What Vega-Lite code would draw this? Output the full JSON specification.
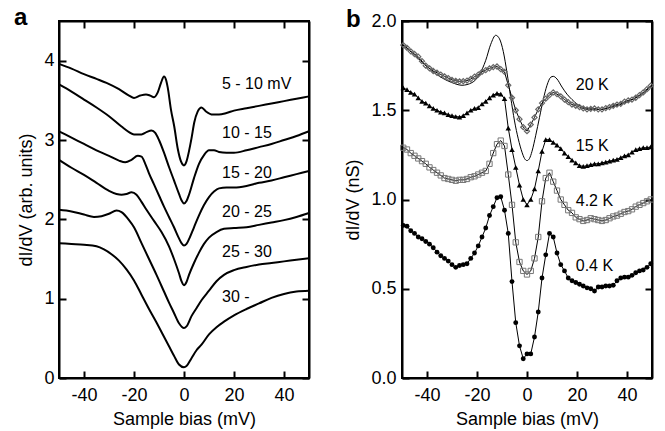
{
  "$schema": "https://vega.github.io/schema/vega-lite/v6.json",
  "padding": {"left": 13, "top": 5, "right": 5, "bottom": 5},
  "background": "white",
  "spacing": 29,
  "config": {
    "font": "Liberation Sans",
    "view": {"stroke": "black", "strokeWidth": 2},
    "axis": {
      "labelFont": "Liberation Sans", "labelFontSize": 18, "labelColor": "black",
      "titleFont": "Liberation Sans", "titleFontSize": 18, "titleFontWeight": "normal", "titleColor": "black",
      "tickColor": "black", "tickWidth": 2, "tickSize": -7, "ticks": true, "domain": true, "domainColor": "black", "domainWidth": 2, "grid": false,
      "labelFlush": false, "labelOverlap": false
    },
    "title": {"font": "Liberation Sans", "fontSize": 24, "fontWeight": "bold", "anchor": "start", "frame": "group", "color": "black"}
  },
  "datasets": {
    "a": [
      {"c":"1","x":-50,"y":3.96},{"c":"1","x":-45,"y":3.90},{"c":"1","x":-40,"y":3.83},{"c":"1","x":-35,"y":3.77},{"c":"1","x":-31,"y":3.72},{"c":"1","x":-26,"y":3.64},{"c":"1","x":-22,"y":3.56},{"c":"1","x":-20,"y":3.53},{"c":"1","x":-17.5,"y":3.56},{"c":"1","x":-15.2,"y":3.575},{"c":"1","x":-13.5,"y":3.56},{"c":"1","x":-12,"y":3.54},{"c":"1","x":-10.5,"y":3.60},{"c":"1","x":-9.2,"y":3.72},{"c":"1","x":-8,"y":3.80},{"c":"1","x":-7.2,"y":3.76},{"c":"1","x":-6.5,"y":3.66},{"c":"1","x":-5.2,"y":3.38},{"c":"1","x":-3.9,"y":3.17},{"c":"1","x":-2.5,"y":2.89},{"c":"1","x":-1.2,"y":2.73},{"c":"1","x":0,"y":2.68},{"c":"1","x":1,"y":2.73},{"c":"1","x":2,"y":2.86},{"c":"1","x":3,"y":3.02},{"c":"1","x":4.1,"y":3.22},{"c":"1","x":5.5,"y":3.36},{"c":"1","x":7,"y":3.41},{"c":"1","x":8.8,"y":3.36},{"c":"1","x":11.5,"y":3.32},{"c":"1","x":14,"y":3.32},{"c":"1","x":17,"y":3.34},{"c":"1","x":20,"y":3.37},{"c":"1","x":25,"y":3.40},{"c":"1","x":30,"y":3.43},{"c":"1","x":35,"y":3.46},{"c":"1","x":40,"y":3.49},{"c":"1","x":45,"y":3.52},{"c":"1","x":50,"y":3.55},
      {"c":"2","x":-50,"y":3.70},{"c":"2","x":-45,"y":3.61},{"c":"2","x":-40,"y":3.51},{"c":"2","x":-35,"y":3.41},{"c":"2","x":-30,"y":3.30},{"c":"2","x":-25,"y":3.17},{"c":"2","x":-22,"y":3.10},{"c":"2","x":-20,"y":3.07},{"c":"2","x":-17,"y":3.07},{"c":"2","x":-15,"y":3.10},{"c":"2","x":-13,"y":3.12},{"c":"2","x":-11.5,"y":3.09},{"c":"2","x":-10,"y":3.00},{"c":"2","x":-8,"y":2.84},{"c":"2","x":-6,"y":2.66},{"c":"2","x":-4,"y":2.49},{"c":"2","x":-2,"y":2.32},{"c":"2","x":-1,"y":2.24},{"c":"2","x":0,"y":2.20},{"c":"2","x":1,"y":2.23},{"c":"2","x":2,"y":2.31},{"c":"2","x":4,"y":2.52},{"c":"2","x":6,"y":2.70},{"c":"2","x":8,"y":2.81},{"c":"2","x":10,"y":2.87},{"c":"2","x":12,"y":2.87},{"c":"2","x":14,"y":2.85},{"c":"2","x":17,"y":2.84},{"c":"2","x":20,"y":2.84},{"c":"2","x":25,"y":2.87},{"c":"2","x":30,"y":2.91},{"c":"2","x":35,"y":2.95},{"c":"2","x":40,"y":3.00},{"c":"2","x":45,"y":3.05},{"c":"2","x":50,"y":3.11},
      {"c":"3","x":-50,"y":3.11},{"c":"3","x":-45,"y":3.03},{"c":"3","x":-40,"y":2.95},{"c":"3","x":-35,"y":2.87},{"c":"3","x":-30,"y":2.80},{"c":"3","x":-26,"y":2.74},{"c":"3","x":-23.5,"y":2.72},{"c":"3","x":-21,"y":2.75},{"c":"3","x":-18.5,"y":2.80},{"c":"3","x":-17,"y":2.79},{"c":"3","x":-15.5,"y":2.70},{"c":"3","x":-14,"y":2.58},{"c":"3","x":-12,"y":2.44},{"c":"3","x":-10,"y":2.30},{"c":"3","x":-8,"y":2.16},{"c":"3","x":-6,"y":2.03},{"c":"3","x":-4,"y":1.90},{"c":"3","x":-2,"y":1.76},{"c":"3","x":-1,"y":1.70},{"c":"3","x":0,"y":1.67},{"c":"3","x":1,"y":1.69},{"c":"3","x":2,"y":1.75},{"c":"3","x":4,"y":1.90},{"c":"3","x":6,"y":2.05},{"c":"3","x":8,"y":2.18},{"c":"3","x":10,"y":2.28},{"c":"3","x":12,"y":2.35},{"c":"3","x":14,"y":2.39},{"c":"3","x":17,"y":2.40},{"c":"3","x":20,"y":2.40},{"c":"3","x":25,"y":2.42},{"c":"3","x":30,"y":2.46},{"c":"3","x":35,"y":2.49},{"c":"3","x":40,"y":2.53},{"c":"3","x":45,"y":2.57},{"c":"3","x":50,"y":2.61},
      {"c":"4","x":-50,"y":2.75},{"c":"4","x":-45,"y":2.65},{"c":"4","x":-40,"y":2.56},{"c":"4","x":-35,"y":2.46},{"c":"4","x":-30,"y":2.36},{"c":"4","x":-27,"y":2.32},{"c":"4","x":-25,"y":2.31},{"c":"4","x":-23,"y":2.32},{"c":"4","x":-21,"y":2.34},{"c":"4","x":-19,"y":2.31},{"c":"4","x":-17,"y":2.22},{"c":"4","x":-15,"y":2.12},{"c":"4","x":-12,"y":1.98},{"c":"4","x":-9,"y":1.84},{"c":"4","x":-6,"y":1.66},{"c":"4","x":-4,"y":1.50},{"c":"4","x":-2,"y":1.32},{"c":"4","x":-1,"y":1.22},{"c":"4","x":0,"y":1.17},{"c":"4","x":1,"y":1.21},{"c":"4","x":2,"y":1.30},{"c":"4","x":4,"y":1.45},{"c":"4","x":6,"y":1.58},{"c":"4","x":8,"y":1.69},{"c":"4","x":10,"y":1.77},{"c":"4","x":13,"y":1.84},{"c":"4","x":16,"y":1.88},{"c":"4","x":20,"y":1.89},{"c":"4","x":25,"y":1.90},{"c":"4","x":30,"y":1.93},{"c":"4","x":35,"y":1.96},{"c":"4","x":40,"y":1.99},{"c":"4","x":45,"y":2.03},{"c":"4","x":50,"y":2.08},
      {"c":"5","x":-50,"y":2.12},{"c":"5","x":-45,"y":2.10},{"c":"5","x":-40,"y":2.06},{"c":"5","x":-36,"y":2.03},{"c":"5","x":-33,"y":2.04},{"c":"5","x":-30,"y":2.07},{"c":"5","x":-27,"y":2.11},{"c":"5","x":-25,"y":2.09},{"c":"5","x":-22,"y":1.99},{"c":"5","x":-20,"y":1.90},{"c":"5","x":-17,"y":1.70},{"c":"5","x":-14,"y":1.50},{"c":"5","x":-11,"y":1.30},{"c":"5","x":-8,"y":1.09},{"c":"5","x":-6,"y":0.95},{"c":"5","x":-4,"y":0.82},{"c":"5","x":-2,"y":0.69},{"c":"5","x":0,"y":0.63},{"c":"5","x":1,"y":0.65},{"c":"5","x":3,"y":0.78},{"c":"5","x":5,"y":0.88},{"c":"5","x":7,"y":0.98},{"c":"5","x":10,"y":1.10},{"c":"5","x":13,"y":1.22},{"c":"5","x":16,"y":1.30},{"c":"5","x":20,"y":1.36},{"c":"5","x":25,"y":1.40},{"c":"5","x":30,"y":1.43},{"c":"5","x":35,"y":1.45},{"c":"5","x":40,"y":1.47},{"c":"5","x":45,"y":1.49},{"c":"5","x":50,"y":1.51},
      {"c":"6","x":-50,"y":1.70},{"c":"6","x":-45,"y":1.69},{"c":"6","x":-40,"y":1.68},{"c":"6","x":-35,"y":1.66},{"c":"6","x":-32,"y":1.62},{"c":"6","x":-29,"y":1.56},{"c":"6","x":-26,"y":1.48},{"c":"6","x":-23,"y":1.37},{"c":"6","x":-20,"y":1.23},{"c":"6","x":-17,"y":1.05},{"c":"6","x":-14,"y":0.87},{"c":"6","x":-11,"y":0.70},{"c":"6","x":-8,"y":0.52},{"c":"6","x":-6,"y":0.40},{"c":"6","x":-4,"y":0.28},{"c":"6","x":-2,"y":0.17},{"c":"6","x":0,"y":0.135},{"c":"6","x":1,"y":0.15},{"c":"6","x":3,"y":0.25},{"c":"6","x":5,"y":0.35},{"c":"6","x":7,"y":0.42},{"c":"6","x":10,"y":0.55},{"c":"6","x":13,"y":0.64},{"c":"6","x":16,"y":0.71},{"c":"6","x":20,"y":0.79},{"c":"6","x":25,"y":0.87},{"c":"6","x":30,"y":0.94},{"c":"6","x":35,"y":1.01},{"c":"6","x":40,"y":1.06},{"c":"6","x":45,"y":1.09},{"c":"6","x":50,"y":1.10}
    ],
    "alab": [
      {"t":"5 - 10 mV","x":15.2,"y":3.70},{"t":"10 - 15","x":15.2,"y":3.09},{"t":"15 - 20","x":15.2,"y":2.58},{"t":"20 - 25","x":15.2,"y":2.09},{"t":"25 - 30","x":15.2,"y":1.59},{"t":"30 -","x":15.2,"y":1.02}
    ],
    "blab": [
      {"t":"20 K","x":19.5,"y":1.64},{"t":"15 K","x":19.5,"y":1.30},{"t":"4.2 K","x":19.5,"y":0.99},{"t":"0.4 K","x":19.5,"y":0.63}
    ],
    "fit": [
      {"x":-50,"y":1.87},{"x":-45,"y":1.81},{"x":-40,"y":1.745},{"x":-35,"y":1.69},{"x":-30,"y":1.655},{"x":-26,"y":1.64},{"x":-22,"y":1.655},{"x":-19,"y":1.70},{"x":-16.5,"y":1.78},{"x":-14.5,"y":1.87},{"x":-12.5,"y":1.92},{"x":-11,"y":1.90},{"x":-9.5,"y":1.83},{"x":-8,"y":1.71},{"x":-6.5,"y":1.57},{"x":-5,"y":1.44},{"x":-3.5,"y":1.34},{"x":-2,"y":1.265},{"x":-1,"y":1.23},{"x":0,"y":1.218},{"x":1,"y":1.23},{"x":2,"y":1.27},{"x":3.5,"y":1.36},{"x":5,"y":1.46},{"x":6.5,"y":1.56},{"x":8,"y":1.64},{"x":9.5,"y":1.685},{"x":10.5,"y":1.69},{"x":12,"y":1.675},{"x":14,"y":1.63},{"x":16,"y":1.59},{"x":18,"y":1.56},{"x":20,"y":1.535},{"x":23,"y":1.515},{"x":26,"y":1.505},{"x":30,"y":1.505},{"x":34,"y":1.52},{"x":38,"y":1.535},{"x":42,"y":1.56},{"x":46,"y":1.59},{"x":50,"y":1.64}
    ],
    "b": [
      {"s":"20 K","x":-49.5,"y":1.865},{"s":"20 K","x":-48,"y":1.85},{"s":"20 K","x":-46.5,"y":1.83},{"s":"20 K","x":-45,"y":1.815},{"s":"20 K","x":-43.5,"y":1.80},{"s":"20 K","x":-42,"y":1.775},{"s":"20 K","x":-40.5,"y":1.75},{"s":"20 K","x":-39,"y":1.735},{"s":"20 K","x":-37.5,"y":1.72},{"s":"20 K","x":-36,"y":1.71},{"s":"20 K","x":-34.5,"y":1.70},{"s":"20 K","x":-33,"y":1.69},{"s":"20 K","x":-31.5,"y":1.68},{"s":"20 K","x":-30,"y":1.67},{"s":"20 K","x":-28.5,"y":1.665},{"s":"20 K","x":-27,"y":1.662},{"s":"20 K","x":-25.5,"y":1.663},{"s":"20 K","x":-24,"y":1.666},{"s":"20 K","x":-22.5,"y":1.675},{"s":"20 K","x":-21,"y":1.688},{"s":"20 K","x":-19.5,"y":1.70},{"s":"20 K","x":-18,"y":1.715},{"s":"20 K","x":-16.5,"y":1.725},{"s":"20 K","x":-15,"y":1.735},{"s":"20 K","x":-13.5,"y":1.742},{"s":"20 K","x":-12,"y":1.745},{"s":"20 K","x":-10.5,"y":1.73},{"s":"20 K","x":-9,"y":1.715},{"s":"20 K","x":-7.5,"y":1.64},{"s":"20 K","x":-6,"y":1.57},{"s":"20 K","x":-4.5,"y":1.50},{"s":"20 K","x":-3,"y":1.45},{"s":"20 K","x":-1.5,"y":1.405},{"s":"20 K","x":0,"y":1.383},{"s":"20 K","x":1.5,"y":1.42},{"s":"20 K","x":3,"y":1.46},{"s":"20 K","x":4.5,"y":1.505},{"s":"20 K","x":6,"y":1.54},{"s":"20 K","x":7.5,"y":1.565},{"s":"20 K","x":9,"y":1.585},{"s":"20 K","x":10.5,"y":1.60},{"s":"20 K","x":12,"y":1.59},{"s":"20 K","x":13.5,"y":1.578},{"s":"20 K","x":15,"y":1.56},{"s":"20 K","x":16.5,"y":1.545},{"s":"20 K","x":18,"y":1.532},{"s":"20 K","x":19.5,"y":1.525},{"s":"20 K","x":21,"y":1.518},{"s":"20 K","x":22.5,"y":1.51},{"s":"20 K","x":24,"y":1.505},{"s":"20 K","x":25.5,"y":1.508},{"s":"20 K","x":27,"y":1.51},{"s":"20 K","x":28.5,"y":1.505},{"s":"20 K","x":30,"y":1.505},{"s":"20 K","x":31.5,"y":1.512},{"s":"20 K","x":33,"y":1.518},{"s":"20 K","x":34.5,"y":1.525},{"s":"20 K","x":36,"y":1.532},{"s":"20 K","x":37.5,"y":1.536},{"s":"20 K","x":39,"y":1.548},{"s":"20 K","x":40.5,"y":1.555},{"s":"20 K","x":42,"y":1.56},{"s":"20 K","x":43.5,"y":1.57},{"s":"20 K","x":45,"y":1.585},{"s":"20 K","x":46.5,"y":1.60},{"s":"20 K","x":48,"y":1.618},{"s":"20 K","x":49.5,"y":1.638},
      {"s":"15 K","x":-49.5,"y":1.625},{"s":"15 K","x":-48,"y":1.615},{"s":"15 K","x":-46.5,"y":1.60},{"s":"15 K","x":-45,"y":1.59},{"s":"15 K","x":-43.5,"y":1.57},{"s":"15 K","x":-42,"y":1.55},{"s":"15 K","x":-40.5,"y":1.54},{"s":"15 K","x":-39,"y":1.525},{"s":"15 K","x":-37.5,"y":1.51},{"s":"15 K","x":-36,"y":1.50},{"s":"15 K","x":-34.5,"y":1.49},{"s":"15 K","x":-33,"y":1.485},{"s":"15 K","x":-31.5,"y":1.475},{"s":"15 K","x":-30,"y":1.47},{"s":"15 K","x":-28.5,"y":1.465},{"s":"15 K","x":-27,"y":1.462},{"s":"15 K","x":-25.5,"y":1.47},{"s":"15 K","x":-24,"y":1.485},{"s":"15 K","x":-22.5,"y":1.50},{"s":"15 K","x":-21,"y":1.51},{"s":"15 K","x":-19.5,"y":1.515},{"s":"15 K","x":-18,"y":1.535},{"s":"15 K","x":-16.5,"y":1.55},{"s":"15 K","x":-15,"y":1.57},{"s":"15 K","x":-13.5,"y":1.585},{"s":"15 K","x":-12,"y":1.595},{"s":"15 K","x":-10.5,"y":1.59},{"s":"15 K","x":-9,"y":1.565},{"s":"15 K","x":-7.5,"y":1.40},{"s":"15 K","x":-6,"y":1.28},{"s":"15 K","x":-4.5,"y":1.18},{"s":"15 K","x":-3,"y":1.08},{"s":"15 K","x":-1.5,"y":1.00},{"s":"15 K","x":0,"y":0.97},{"s":"15 K","x":1.5,"y":1.00},{"s":"15 K","x":3,"y":1.06},{"s":"15 K","x":4.5,"y":1.16},{"s":"15 K","x":6,"y":1.27},{"s":"15 K","x":7.5,"y":1.335},{"s":"15 K","x":9,"y":1.335},{"s":"15 K","x":10.5,"y":1.32},{"s":"15 K","x":12,"y":1.305},{"s":"15 K","x":13.5,"y":1.285},{"s":"15 K","x":15,"y":1.26},{"s":"15 K","x":16.5,"y":1.24},{"s":"15 K","x":18,"y":1.22},{"s":"15 K","x":19.5,"y":1.205},{"s":"15 K","x":21,"y":1.19},{"s":"15 K","x":22.5,"y":1.185},{"s":"15 K","x":24,"y":1.19},{"s":"15 K","x":25.5,"y":1.195},{"s":"15 K","x":27,"y":1.20},{"s":"15 K","x":28.5,"y":1.20},{"s":"15 K","x":30,"y":1.205},{"s":"15 K","x":31.5,"y":1.21},{"s":"15 K","x":33,"y":1.215},{"s":"15 K","x":34.5,"y":1.22},{"s":"15 K","x":36,"y":1.225},{"s":"15 K","x":37.5,"y":1.235},{"s":"15 K","x":39,"y":1.245},{"s":"15 K","x":40.5,"y":1.25},{"s":"15 K","x":42,"y":1.265},{"s":"15 K","x":43.5,"y":1.28},{"s":"15 K","x":45,"y":1.285},{"s":"15 K","x":46.5,"y":1.29},{"s":"15 K","x":48,"y":1.29},{"s":"15 K","x":49.5,"y":1.295},
      {"s":"4.2 K","x":-49.5,"y":1.29},{"s":"4.2 K","x":-48,"y":1.28},{"s":"4.2 K","x":-46.5,"y":1.26},{"s":"4.2 K","x":-45,"y":1.245},{"s":"4.2 K","x":-43.5,"y":1.23},{"s":"4.2 K","x":-42,"y":1.215},{"s":"4.2 K","x":-40.5,"y":1.20},{"s":"4.2 K","x":-39,"y":1.18},{"s":"4.2 K","x":-37.5,"y":1.165},{"s":"4.2 K","x":-36,"y":1.15},{"s":"4.2 K","x":-34.5,"y":1.135},{"s":"4.2 K","x":-33,"y":1.12},{"s":"4.2 K","x":-31.5,"y":1.115},{"s":"4.2 K","x":-30,"y":1.11},{"s":"4.2 K","x":-28.5,"y":1.105},{"s":"4.2 K","x":-27,"y":1.11},{"s":"4.2 K","x":-25.5,"y":1.11},{"s":"4.2 K","x":-24,"y":1.115},{"s":"4.2 K","x":-22.5,"y":1.125},{"s":"4.2 K","x":-21,"y":1.13},{"s":"4.2 K","x":-19.5,"y":1.14},{"s":"4.2 K","x":-18,"y":1.15},{"s":"4.2 K","x":-16.5,"y":1.16},{"s":"4.2 K","x":-15,"y":1.20},{"s":"4.2 K","x":-13.5,"y":1.26},{"s":"4.2 K","x":-12,"y":1.31},{"s":"4.2 K","x":-10.5,"y":1.33},{"s":"4.2 K","x":-9,"y":1.30},{"s":"4.2 K","x":-7.5,"y":1.14},{"s":"4.2 K","x":-6,"y":0.97},{"s":"4.2 K","x":-4.5,"y":0.76},{"s":"4.2 K","x":-3,"y":0.65},{"s":"4.2 K","x":-1.5,"y":0.60},{"s":"4.2 K","x":0,"y":0.58},{"s":"4.2 K","x":1.5,"y":0.60},{"s":"4.2 K","x":3,"y":0.67},{"s":"4.2 K","x":4.5,"y":0.79},{"s":"4.2 K","x":6,"y":0.99},{"s":"4.2 K","x":7.5,"y":1.12},{"s":"4.2 K","x":9,"y":1.15},{"s":"4.2 K","x":10.5,"y":1.10},{"s":"4.2 K","x":12,"y":1.05},{"s":"4.2 K","x":13.5,"y":1.00},{"s":"4.2 K","x":15,"y":0.97},{"s":"4.2 K","x":16.5,"y":0.94},{"s":"4.2 K","x":18,"y":0.925},{"s":"4.2 K","x":19.5,"y":0.90},{"s":"4.2 K","x":21,"y":0.89},{"s":"4.2 K","x":22.5,"y":0.88},{"s":"4.2 K","x":24,"y":0.885},{"s":"4.2 K","x":25.5,"y":0.895},{"s":"4.2 K","x":27,"y":0.89},{"s":"4.2 K","x":28.5,"y":0.885},{"s":"4.2 K","x":30,"y":0.88},{"s":"4.2 K","x":31.5,"y":0.885},{"s":"4.2 K","x":33,"y":0.895},{"s":"4.2 K","x":34.5,"y":0.905},{"s":"4.2 K","x":36,"y":0.91},{"s":"4.2 K","x":37.5,"y":0.92},{"s":"4.2 K","x":39,"y":0.93},{"s":"4.2 K","x":40.5,"y":0.935},{"s":"4.2 K","x":42,"y":0.945},{"s":"4.2 K","x":43.5,"y":0.96},{"s":"4.2 K","x":45,"y":0.97},{"s":"4.2 K","x":46.5,"y":0.98},{"s":"4.2 K","x":48,"y":0.99},{"s":"4.2 K","x":49.5,"y":1.0},
      {"s":"0.4 K","x":-49.5,"y":0.855},{"s":"0.4 K","x":-48,"y":0.85},{"s":"0.4 K","x":-46.5,"y":0.825},{"s":"0.4 K","x":-45,"y":0.81},{"s":"0.4 K","x":-43.5,"y":0.79},{"s":"0.4 K","x":-42,"y":0.78},{"s":"0.4 K","x":-40.5,"y":0.765},{"s":"0.4 K","x":-39,"y":0.75},{"s":"0.4 K","x":-37.5,"y":0.73},{"s":"0.4 K","x":-36,"y":0.705},{"s":"0.4 K","x":-34.5,"y":0.685},{"s":"0.4 K","x":-33,"y":0.67},{"s":"0.4 K","x":-31.5,"y":0.655},{"s":"0.4 K","x":-30,"y":0.635},{"s":"0.4 K","x":-28.5,"y":0.62},{"s":"0.4 K","x":-27,"y":0.63},{"s":"0.4 K","x":-25.5,"y":0.635},{"s":"0.4 K","x":-24,"y":0.64},{"s":"0.4 K","x":-22.5,"y":0.67},{"s":"0.4 K","x":-21,"y":0.70},{"s":"0.4 K","x":-19.5,"y":0.74},{"s":"0.4 K","x":-18,"y":0.79},{"s":"0.4 K","x":-16.5,"y":0.84},{"s":"0.4 K","x":-15,"y":0.91},{"s":"0.4 K","x":-13.5,"y":0.96},{"s":"0.4 K","x":-12,"y":1.01},{"s":"0.4 K","x":-10.5,"y":1.015},{"s":"0.4 K","x":-9,"y":0.94},{"s":"0.4 K","x":-7.5,"y":0.81},{"s":"0.4 K","x":-6,"y":0.54},{"s":"0.4 K","x":-4.5,"y":0.31},{"s":"0.4 K","x":-3,"y":0.18},{"s":"0.4 K","x":-1.5,"y":0.108},{"s":"0.4 K","x":0,"y":0.135},{"s":"0.4 K","x":1.5,"y":0.135},{"s":"0.4 K","x":3,"y":0.23},{"s":"0.4 K","x":4.5,"y":0.37},{"s":"0.4 K","x":6,"y":0.56},{"s":"0.4 K","x":7.5,"y":0.69},{"s":"0.4 K","x":9,"y":0.81},{"s":"0.4 K","x":10.5,"y":0.79},{"s":"0.4 K","x":12,"y":0.70},{"s":"0.4 K","x":13.5,"y":0.635},{"s":"0.4 K","x":15,"y":0.60},{"s":"0.4 K","x":16.5,"y":0.56},{"s":"0.4 K","x":18,"y":0.545},{"s":"0.4 K","x":19.5,"y":0.535},{"s":"0.4 K","x":21,"y":0.525},{"s":"0.4 K","x":22.5,"y":0.515},{"s":"0.4 K","x":24,"y":0.505},{"s":"0.4 K","x":25.5,"y":0.50},{"s":"0.4 K","x":27,"y":0.487},{"s":"0.4 K","x":28.5,"y":0.51},{"s":"0.4 K","x":30,"y":0.51},{"s":"0.4 K","x":31.5,"y":0.515},{"s":"0.4 K","x":33,"y":0.515},{"s":"0.4 K","x":34.5,"y":0.52},{"s":"0.4 K","x":36,"y":0.545},{"s":"0.4 K","x":37.5,"y":0.56},{"s":"0.4 K","x":39,"y":0.565},{"s":"0.4 K","x":40.5,"y":0.565},{"s":"0.4 K","x":42,"y":0.575},{"s":"0.4 K","x":43.5,"y":0.59},{"s":"0.4 K","x":45,"y":0.60},{"s":"0.4 K","x":46.5,"y":0.605},{"s":"0.4 K","x":48,"y":0.62},{"s":"0.4 K","x":49.5,"y":0.64}
    ]
  },
  "hconcat": [
    {
      "width": 250, "height": 357,
      "title": {"text": "a", "dx": -45, "dy": 14},
      "layer": [
        {"mark": {"type": "rule", "strokeDash": [3, 3], "strokeWidth": 1, "color": "black"},
         "encoding": {"x": {"datum": 0, "type": "quantitative", "scale": {"domain": [-50, 50], "nice": false}, "axis": null}}},
        {"data": {"name": "a"},
         "mark": {"type": "line", "interpolate": "monotone", "color": "black", "strokeWidth": 2},
         "encoding": {
           "x": {"field": "x", "type": "quantitative", "scale": {"domain": [-50, 50], "nice": false},
                 "axis": {"orient": "bottom", "title": "Sample bias (mV)", "values": [-40, -20, 0, 20, 40], "labelExpr": "'' + datum.value", "labelPadding": 15, "titlePadding": 6}},
           "y": {"field": "y", "type": "quantitative", "scale": {"domain": [0, 4.5], "nice": false},
                 "axis": {"orient": "left", "title": "dI/dV (arb. units)", "values": [0, 1, 2, 3, 4], "labelPadding": 12, "titlePadding": 8}},
           "detail": {"field": "c"}
         }},
        {"data": {"name": "alab"},
         "mark": {"type": "text", "align": "left", "baseline": "middle", "fontSize": 16, "font": "Liberation Sans", "color": "black"},
         "encoding": {
           "x": {"field": "x", "type": "quantitative", "scale": {"domain": [-50, 50], "nice": false},
                 "axis": {"orient": "top", "labels": false, "title": null, "values": [-40, -20, 0, 20, 40]}},
           "y": {"field": "y", "type": "quantitative", "scale": {"domain": [0, 4.5], "nice": false},
                 "axis": {"orient": "right", "labels": false, "title": null, "values": [0, 1, 2, 3, 4]}},
           "text": {"field": "t"}
         }}
      ],
      "resolve": {"axis": {"x": "independent", "y": "independent"}}
    },
    {
      "width": 250, "height": 357,
      "title": {"text": "b", "dx": -56, "dy": 24},
      "layer": [
        {"mark": {"type": "rule", "strokeDash": [3, 3], "strokeWidth": 1, "color": "black"},
         "encoding": {"x": {"datum": 0, "type": "quantitative", "scale": {"domain": [-50, 50], "nice": false}, "axis": null}}},
        {"data": {"name": "fit"},
         "mark": {"type": "line", "interpolate": "monotone", "color": "black", "strokeWidth": 1},
         "encoding": {
           "x": {"field": "x", "type": "quantitative", "scale": {"domain": [-50, 50], "nice": false}, "axis": null},
           "y": {"field": "y", "type": "quantitative", "scale": {"domain": [0, 2], "nice": false}, "axis": null}
         }},
        {"data": {"name": "b"},
         "mark": {"type": "line", "color": "black", "strokeWidth": 1},
         "encoding": {
           "x": {"field": "x", "type": "quantitative", "scale": {"domain": [-50, 50], "nice": false},
                 "axis": {"orient": "bottom", "title": "Sample bias (mV)", "values": [-40, -20, 0, 20, 40], "labelExpr": "'' + datum.value", "labelPadding": 15, "titlePadding": 6}},
           "y": {"field": "y", "type": "quantitative", "scale": {"domain": [0, 2], "nice": false},
                 "axis": {"orient": "left", "title": "dI/dV (nS)", "values": [0, 0.5, 1, 1.5, 2], "format": ".1f", "labelPadding": 13, "titlePadding": 8}},
           "detail": {"field": "s"}
         }},
        {"data": {"name": "b"}, "transform": [{"filter": "datum.s == '20 K'"}],
         "mark": {"type": "point", "shape": "diamond", "filled": false, "stroke": "#666666", "strokeWidth": 1.2, "size": 26, "opacity": 1},
         "encoding": {
           "x": {"field": "x", "type": "quantitative", "scale": {"domain": [-50, 50], "nice": false}, "axis": null},
           "y": {"field": "y", "type": "quantitative", "scale": {"domain": [0, 2], "nice": false}, "axis": null}
         }},
        {"data": {"name": "b"}, "transform": [{"filter": "datum.s == '15 K'"}],
         "mark": {"type": "point", "shape": "triangle-up", "filled": true, "color": "black", "size": 30, "opacity": 1},
         "encoding": {
           "x": {"field": "x", "type": "quantitative", "scale": {"domain": [-50, 50], "nice": false}, "axis": null},
           "y": {"field": "y", "type": "quantitative", "scale": {"domain": [0, 2], "nice": false}, "axis": null}
         }},
        {"data": {"name": "b"}, "transform": [{"filter": "datum.s == '4.2 K'"}],
         "mark": {"type": "point", "shape": "square", "filled": false, "stroke": "#777777", "strokeWidth": 1, "size": 28, "opacity": 1},
         "encoding": {
           "x": {"field": "x", "type": "quantitative", "scale": {"domain": [-50, 50], "nice": false}, "axis": null},
           "y": {"field": "y", "type": "quantitative", "scale": {"domain": [0, 2], "nice": false}, "axis": null}
         }},
        {"data": {"name": "b"}, "transform": [{"filter": "datum.s == '0.4 K'"}],
         "mark": {"type": "point", "shape": "circle", "filled": true, "color": "black", "size": 24, "opacity": 1},
         "encoding": {
           "x": {"field": "x", "type": "quantitative", "scale": {"domain": [-50, 50], "nice": false}, "axis": null},
           "y": {"field": "y", "type": "quantitative", "scale": {"domain": [0, 2], "nice": false}, "axis": null}
         }},
        {"data": {"name": "blab"},
         "mark": {"type": "text", "align": "left", "baseline": "middle", "fontSize": 16, "font": "Liberation Sans", "color": "black"},
         "encoding": {
           "x": {"field": "x", "type": "quantitative", "scale": {"domain": [-50, 50], "nice": false},
                 "axis": {"orient": "top", "labels": false, "title": null, "values": [-40, -20, 0, 20, 40]}},
           "y": {"field": "y", "type": "quantitative", "scale": {"domain": [0, 2], "nice": false},
                 "axis": {"orient": "right", "labels": false, "title": null, "values": [0, 0.5, 1, 1.5, 2]}},
           "text": {"field": "t"}
         }}
      ],
      "resolve": {"axis": {"x": "independent", "y": "independent"}}
    }
  ]
}
